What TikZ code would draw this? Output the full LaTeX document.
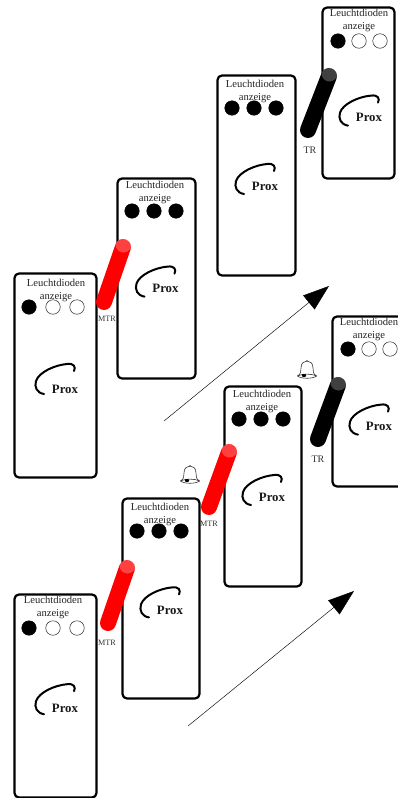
\documentclass[tikz,border=0pt]{standalone}
\usepackage{fontspec}
\setmainfont{Liberation Serif}
\usetikzlibrary{arrows.meta}
\tikzset{
  devbox/.style={draw=black,line width=2.2pt,rounded corners=4.5pt,fill=white,anchor=north west,inner sep=0pt,outer sep=0pt},
  ledon/.style={circle,draw=black,fill=black,minimum size=14.5pt,inner sep=0pt,line width=.5pt},
  ledoff/.style={circle,draw=black!85,fill=white,minimum size=14.5pt,inner sep=0pt,line width=.5pt},
  ledtext/.style={font=\fontsize{10.6}{12}\selectfont,text=black!85,inner sep=0pt,anchor=base},
  proxtext/.style={font=\fontsize{12.8}{14}\bfseries\selectfont,text=black!90,inner sep=0pt},
  levlabel/.style={font=\fontsize{8.2}{9}\selectfont,text=black!80,inner sep=0pt},
  trlabel/.style={font=\fontsize{10}{12}\selectfont,text=black!80,inner sep=0pt},
  proxarc/.style={line width=2pt,line cap=round},
  flow/.style={line width=.45pt,-{Triangle[length=26pt,width=18pt]}},
  bellline/.style={line width=.6pt,draw=black!80,fill=white},
}
\newcommand{\devicebox}[5]{%
  \node[devbox,minimum width=#4pt,minimum height=#5pt] (#1) at (#2,#3) {};
}
\newcommand{\deviceparts}[9]{%
  % name, x, y, spacing, led start dx, led dy, text dy, prox dx, prox dy
  \begin{scope}[shift={(#2,#3)}]
    \pgfmathsetmacro{\la}{#5}\pgfmathsetmacro{\lb}{#5+#4}\pgfmathsetmacro{\lc}{#5+2*#4}
    \pgfmathsetmacro{\tx}{#5+#4+\textdx}
    \pgfmathsetmacro{\arcdy}{0.4*#9}
    \node[ledtext] (#1t1) at (\tx,#7+3.5) {Leuchtdioden};
    \node[ledtext] (#1t2) at (\tx,#7+16.5) {anzeige};
    \node[ledon]  (#1a) at (\la,#6) {};
    \node[\ledB] (#1b) at (\lb,#6) {};
    \node[\ledB] (#1c) at (\lc,#6) {};
    \node[proxtext] (#1p) at (48+#8,111+#9) {Prox};
    \begin{scope}[shift={(#8,\arcdy)}]
      \draw[proxarc] (27,119) .. controls (20,118) and (17,112) .. (19,106)
        .. controls (22,97) and (38,90) .. (50,89) .. controls (57,88) and (59,92) .. (57,96);
    \end{scope}
  \end{scope}
}
\newcommand{\lever}[6]{%
  \coordinate (#1b) at (#2,#3);
  \coordinate (#1t) at (#4,#5);
  \draw[line width=16pt,line cap=round,draw=#6] (#1b) -- (#1t);
  \begin{scope}
    \clip (#1t) circle (8);
    \fill[white,opacity=.25] ([shift={(.5,-2.5)}]#1t) circle (8);
  \end{scope}
}
\newcommand{\bell}[1]{%
  \begin{scope}[shift={#1}]
    \draw[bellline] (-9.5,7) .. controls (-6,5) and (-6,2) .. (-6,-1)
      .. controls (-6,-6) and (-3,-8) .. (0,-8) .. controls (3,-8) and (6,-6) .. (6,-1)
      .. controls (6,2) and (6,5) .. (9.5,7) .. controls (6,10) and (-6,10) .. (-9.5,7) -- cycle;
    \draw[line width=.6pt,draw=black!80] (-9.5,7) .. controls (-5,4.5) and (5,4.5) .. (9.5,7);
    \fill[black] (-3,6.5) ellipse (2.2 and 1.6);
    \fill[black!70] (0,-8) circle (.8);
  \end{scope}
}
\begin{document}
\begin{tikzpicture}[x=1pt,y=-1pt]
  \useasboundingbox (0,0) rectangle (397,798);
  \devicebox{d2}{117.5}{178.5}{78}{200}
  \devicebox{d3}{217.5}{75.5}{78}{200}
  \devicebox{d6}{122.5}{498.5}{77}{200}
  \devicebox{d7}{224.5}{386.5}{77}{200}
  \devicebox{d4}{322.5}{7.5}{72}{171}
  \devicebox{d8}{332.5}{316.5}{72}{170}
  \devicebox{d1}{14.5}{273.5}{82}{204}
  \devicebox{d5}{14.5}{594.5}{82}{203}
  \lever{l1}{104}{302}{123}{247}{red}
  \lever{l2}{108}{623}{127}{568}{red}
  \lever{l3}{209}{507}{229}{452}{red}
  \lever{l4}{308}{130}{329}{76}{black}
  \lever{l5}{318}{439}{338}{385}{black}
  \def\ledB{ledon}
  \def\textdx{1}
  \deviceparts{d2}{117}{178}{22}{15}{33}{7}{0.5}{-1}
  \deviceparts{d3}{217}{75}{22}{15}{33}{9}{0}{0}
  \deviceparts{d6}{122}{498}{22}{15}{33}{9}{0}{1}
  \deviceparts{d7}{224}{386}{22}{15}{33}{8}{0}{0}
  \def\ledB{ledoff}
  \def\textdx{0}
  \deviceparts{d4}{322}{7}{21}{16}{34}{6}{-1}{-1}
  \deviceparts{d8}{332}{316}{21}{16}{33}{6}{-1}{-1}
  \deviceparts{d5}{14}{594}{24}{15}{34}{6}{3}{3}
  \def\textdx{3}
  \deviceparts{d1}{14}{273}{24}{15}{34}{9.5}{3}{5}
  \node[levlabel] (m1) at (107,319) {MTR};
  \node[levlabel] (m2) at (107,643) {MTR};
  \node[levlabel] (m3) at (209,524) {MTR};
  \node[trlabel] (t1) at (310,150) {TR};
  \node[trlabel] (t2) at (318,459) {TR};
  \coordinate (f1a) at (164,421); \coordinate (f1b) at (329,286);
  \coordinate (f2a) at (188,726); \coordinate (f2b) at (354,591);
  \draw[flow] (f1a) -- (f1b);
  \draw[flow] (f2a) -- (f2b);
  \bell{(190,474)}
  \bell{(307,369)}
\end{tikzpicture}
\end{document}
